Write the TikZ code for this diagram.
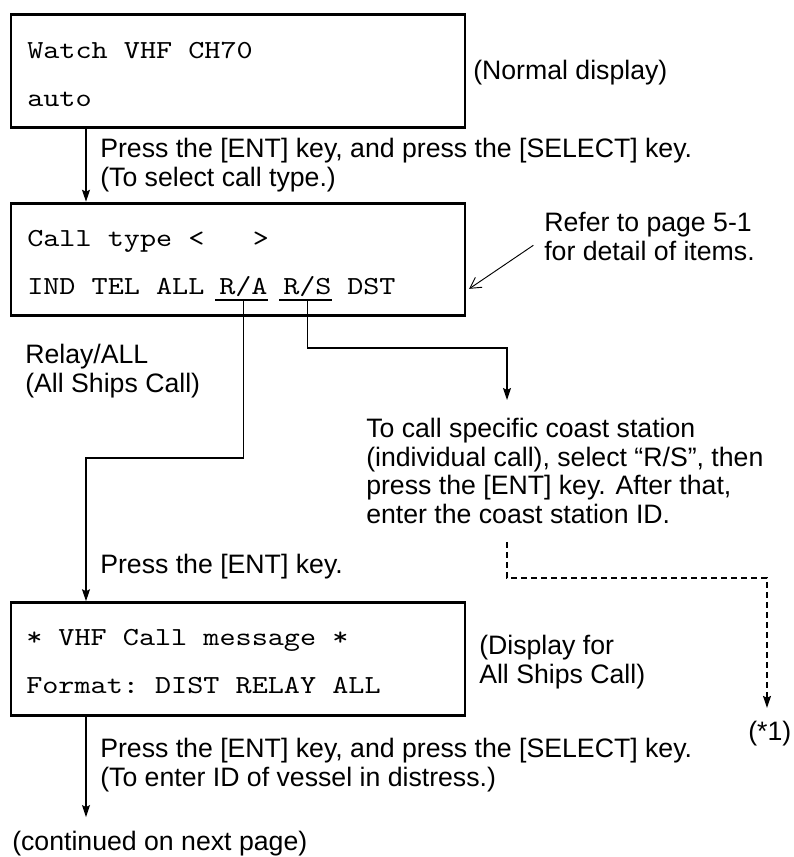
\documentclass[tikz,border=0pt]{standalone}
\usepackage{fontspec}
\setmainfont{Liberation Sans}
\setmonofont[FakeStretch=1.18]{lmmono10-regular.otf}
\usetikzlibrary{arrows.meta,calc}

\begin{document}
\begin{tikzpicture}[
  x=0.75pt, y=-0.75pt,
  font=\fontsize{20}{21.4}\selectfont,
  screen/.style={draw, line width=2.2pt, minimum width=340.5pt,
                 minimum height=84.5pt, inner sep=0pt},
  lcd/.style={font=\fontsize{19.5}{24}\selectfont\ttfamily,
              anchor=base west, inner sep=0pt},
  note/.style={align=left, anchor=north west, inner sep=0pt},
  line/.style={anchor=base west, inner sep=0pt},
  flow/.style={-{Stealth[length=9pt,width=6pt,inset=1.5pt]}, line width=0.9pt},
  uline/.style={line width=0.8pt},
  callout/.style={-{Straight Barb[length=8pt,width=9pt]}, line width=0.7pt}
]
\useasboundingbox (0,0) rectangle (793,857);
\coordinate (spine) at (86,0);

% displays
\node[screen] (normal) at (238,71) {};
\node[screen] (calltype) at (238,259.5) {};
\node[screen] (allships) at (238,659) {};

\node[lcd] (watch) at (27,58) {Watch VHF CH70};
\node[lcd] (auto) at (27,106) {auto};
\node[lcd] (ctype) at (27,246) {Call type <\ \ \ >};
\node[lcd] (ind) at (27,294) {IND TEL ALL};
\node[lcd] (ra) at (219,294) {R/A};
\node[lcd] (rs) at (283,294) {R/S};
\node[lcd] (dst) at (347,294) {DST};
\node[lcd] (vhfmsg) at (26,645) {* VHF Call message *};
\node[lcd] (format) at (26,693) {Format: DIST RELAY ALL};

\draw[uline] ([shift={(-3pt,-4.5pt)}]ra.base west) -- ([yshift=-4.5pt]ra.base east);
\draw[uline] ([shift={(-3pt,-4.5pt)}]rs.base west) -- ([yshift=-4.5pt]rs.base east);
\coordinate (ra-u) at ([yshift=-4.5pt]ra.base);
\coordinate (rs-u) at ([yshift=-4.5pt]rs.base);

% notes
\node[line] (normdisp) at (473,79) {(Normal display)};
\node[note] (press1) at (100,138) {Press the [ENT] key, and press the [SELECT] key.\\(To select call type.)};
\node[note] (refer) at (544,212) {Refer to page 5-1\\for detail of items.};
\node[note] (relay) at (25,344) {Relay/ALL\\(All Ships Call)};
\node[note] (rsnote) at (366,418) {To call specific coast station\\(individual call), select “R/S”, then\\press the [ENT] key. After that,\\enter the coast station ID.};
\node[line] (press2) at (100,573) {Press the [ENT] key.};
\node[note] (dispfor) at (479,635) {(Display for\\All Ships Call)};
\node[note] (press3) at (100,738) {Press the [ENT] key, and press the [SELECT] key.\\(To enter ID of vessel in distress.)};
\node[line] (contd) at (12,850) {(continued on next page)};
\node[line] (star1) at (748,740) {(*1)};

% connectors
\draw[flow] (normal.south -| spine) -- (calltype.north -| spine);
\coordinate (ra-bend) at (86,458);
\draw[flow] (ra-u) |- (ra-bend) -- (allships.north -| ra-bend);
\coordinate (rs-bend) at (507,348);
\draw[flow, shorten >=13.5pt] (rs-u) |- (rs-bend) -- (rs-bend |- rsnote.north);
\coordinate (dash-top) at (507,542);
\coordinate (dash-bend) at (767,578);
\draw[flow, dash pattern=on 4.5pt off 3pt, shorten >=9.4pt] (dash-top) |- (dash-bend) -- (dash-bend |- star1.north);
\draw[flow, shorten >=10pt] (allships.south -| spine) -- (spine |- contd.north);
\draw[callout] ([shift={(-8pt,-6.75pt)}]refer.west) -- ([shift={(2pt,-22pt)}]calltype.east);
\end{tikzpicture}
\end{document}
